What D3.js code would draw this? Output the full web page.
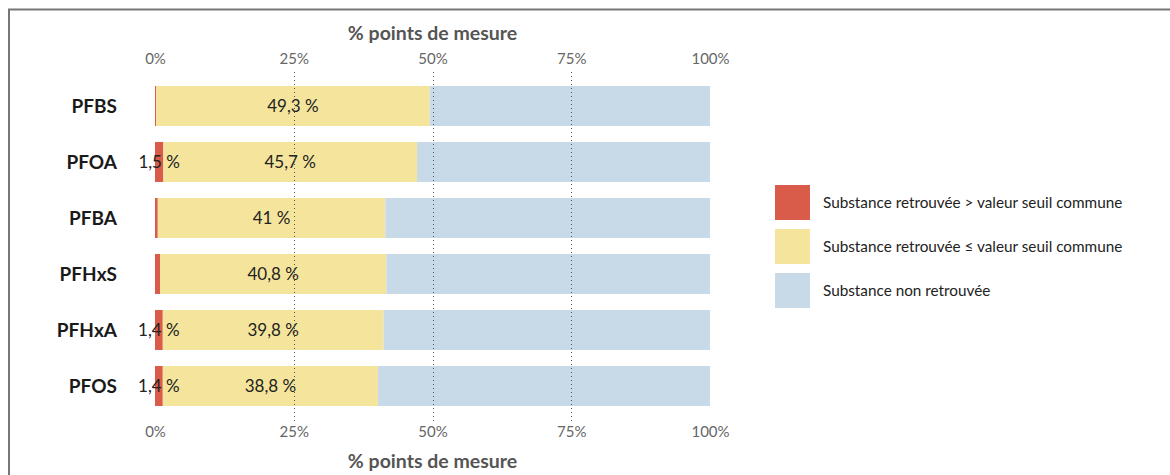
<!DOCTYPE html>
<html>
<head>
<meta charset="utf-8">
<script src="https://cdn.jsdelivr.net/npm/d3@7"></script>
<style>
  html, body { margin: 0; padding: 0; background: #fff; }
  svg { display: block; font-family: Lato, "Open Sans", sans-serif; }
</style>
</head>
<body>
<svg id="chart" width="1170" height="475"></svg>
<script>
// Share of measuring points per PFAS substance (percent)
const categories = ["PFBS", "PFOA", "PFBA", "PFHxS", "PFHxA", "PFOS"];
const aboveThreshold = [0.2, 1.5, 0.5, 0.9, 1.4, 1.4];
const belowThreshold = [49.3, 45.7, 41, 40.8, 39.8, 38.8];
const notFound = categories.map((_, i) => +(100 - aboveThreshold[i] - belowThreshold[i]).toFixed(1));
const tickValues = [0, 25, 50, 75, 100];
const seriesKeys = ["above", "below", "none"];
const seriesLabels = [
  "Substance retrouvée > valeur seuil commune",
  "Substance retrouvée ≤ valeur seuil commune",
  "Substance non retrouvée"
];
const seriesColors = ["#d95b49", "#f5e59c", "#c8d9e7"];
const axisTitle = "% points de mesure";

const rows = categories.map((c, i) => ({
  name: c, above: aboveThreshold[i], below: belowThreshold[i], none: notFound[i]
}));

const svg = d3.select("#chart");

// frame
svg.append("line").attr("x1", 8).attr("x2", 1170).attr("y1", 9.5).attr("y2", 9.5)
  .attr("stroke", "#777").attr("stroke-width", 2);
svg.append("line").attr("x1", 9).attr("x2", 9).attr("y1", 9).attr("y2", 475)
  .attr("stroke", "#777").attr("stroke-width", 2);

const x = d3.scaleLinear().domain([0, 100]).range([155, 710]);
const y = d3.scaleBand().domain(categories).range([78, 414]).paddingInner(0.286).paddingOuter(0.143);

const stack = d3.stack().keys(seriesKeys)(rows);
const color = d3.scaleOrdinal().domain(seriesKeys).range(seriesColors);

const g = svg.append("g");
stack.forEach(layer => {
  g.selectAll(null).data(layer).join("rect")
    .attr("x", d => x(d[0]))
    .attr("y", d => y(d.data.name))
    .attr("width", d => x(d[1]) - x(d[0]))
    .attr("height", y.bandwidth())
    .attr("fill", color(layer.key));
});

// dotted gridlines over the bars
svg.append("g").selectAll("line").data([25, 50, 75]).join("line")
  .attr("x1", d => Math.round(x(d)) + 0.5).attr("x2", d => Math.round(x(d)) + 0.5)
  .attr("y1", 72).attr("y2", 421)
  .attr("stroke", "#555").attr("stroke-width", 1).attr("stroke-dasharray", "1,3");

// top and bottom axes
const fmtTick = d => d + "%";
const topAxis = d3.axisTop(x).tickValues(tickValues).tickFormat(fmtTick).tickSize(0).tickPadding(0);
const bottomAxis = d3.axisBottom(x).tickValues(tickValues).tickFormat(fmtTick).tickSize(0).tickPadding(0);
const ta = svg.append("g").attr("transform", "translate(0,64)").call(topAxis);
const ba = svg.append("g").attr("transform", "translate(0,426)").call(bottomAxis);
[ta, ba].forEach(a => {
  a.select(".domain").remove();
  a.selectAll("text").attr("fill", "#666").style("font-size", "15px").style("font-family", "Lato, sans-serif");
});
ba.selectAll("text").attr("dy", "0.71em");

// axis titles
[40, 468].forEach(yy => {
  svg.append("text").attr("x", x(50)).attr("y", yy).attr("text-anchor", "middle")
    .attr("fill", "#555").style("font-size", "19.5px").style("font-weight", "bold")
    .text(axisTitle);
});

// category labels
svg.append("g").selectAll("text").data(categories).join("text")
  .attr("x", 117).attr("y", d => y(d) + y.bandwidth() / 2)
  .attr("dy", "0.35em").attr("text-anchor", "end")
  .attr("fill", "#1a1a1a").style("font-size", "19px").style("font-weight", "bold")
  .text(d => d);

// value labels
const fmtVal = v => String(v).replace(".", ",") + " %";
const labelLayers = stack.filter(l => l.key !== "none");
labelLayers.forEach(layer => {
  g.selectAll(null).data(layer.filter(d => d[1] - d[0] >= 1)).join("text")
    .attr("x", d => x((d[0] + d[1]) / 2))
    .attr("y", d => y(d.data.name) + y.bandwidth() / 2)
    .attr("dy", "0.35em").attr("text-anchor", "middle")
    .attr("fill", "#222").style("font-size", "17px")
    .text(d => fmtVal(d.data[layer.key]));
});

// legend
const lg = svg.append("g").attr("transform", "translate(775,185)");
seriesKeys.forEach((k, i) => {
  lg.append("rect").attr("x", 0).attr("y", i * 44).attr("width", 35).attr("height", 35)
    .attr("fill", seriesColors[i]);
  lg.append("text").attr("x", 48).attr("y", i * 44 + 17.5).attr("dy", "0.35em")
    .attr("fill", "#222").style("font-size", "15.3px").text(seriesLabels[i]);
});
</script>
</body>
</html>
